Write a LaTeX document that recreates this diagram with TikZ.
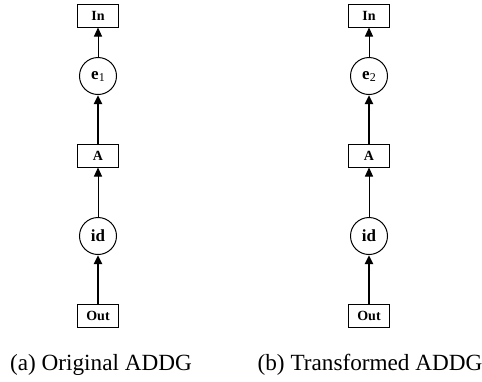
\documentclass[tikz,border=0pt]{standalone}
\usepackage{fontspec}
\setmainfont{Liberation Serif}
\usetikzlibrary{arrows.meta}
\begin{document}
\begin{tikzpicture}[x=0.5pt,y=-0.5pt,
  boxnode/.style={draw,line width=0.5pt,minimum width=20.5pt,minimum height=11.5pt,inner sep=0pt,font=\fontsize{7}{8}\selectfont\bfseries},
  circnode/.style={draw,circle,line width=0.5pt,minimum size=18.5pt,inner sep=0pt,font=\fontsize{8.5}{9}\selectfont\bfseries},
  thinarrow/.style={-{Triangle[length=4.5pt,width=4pt]},line width=0.5pt},
  thickarrow/.style={-{Triangle[length=4.5pt,width=4pt]},line width=1.3pt},
  caption/.style={font=\fontsize{11.6}{13}\selectfont}]
\useasboundingbox (0,0) rectangle (482,381);
% (a)
\node[boxnode] (inA) at (98,15.5) {In};
\node[circnode] (e1) at (98,76) {e\textmd{\fontsize{6}{7}\selectfont\raisebox{-1pt}{1}}};
\node[boxnode] (aA) at (98,155.5) {A};
\node[circnode] (idA) at (98,236) {id};
\node[boxnode] (outA) at (98,316) {Out};
\draw[thinarrow] (e1) -- (inA);
\draw[thickarrow] (aA) -- (e1);
\draw[thinarrow] (idA) -- (aA);
\draw[thickarrow] (outA) -- (idA);
\node[caption] (capA) at (101,365) {(a) Original ADDG};
% (b)
\node[boxnode] (inB) at (369,15.5) {In};
\node[circnode] (e2) at (369,76) {e\textmd{\fontsize{6}{7}\selectfont\raisebox{-1pt}{2}}};
\node[boxnode] (aB) at (369,155.5) {A};
\node[circnode] (idB) at (369,236) {id};
\node[boxnode] (outB) at (369,316) {Out};
\draw[thinarrow] (e2) -- (inB);
\draw[thickarrow] (aB) -- (e2);
\draw[thinarrow] (idB) -- (aB);
\draw[thickarrow] (outB) -- (idB);
\node[caption] (capB) at (370,365) {(b) Transformed ADDG};
\end{tikzpicture}
\end{document}
